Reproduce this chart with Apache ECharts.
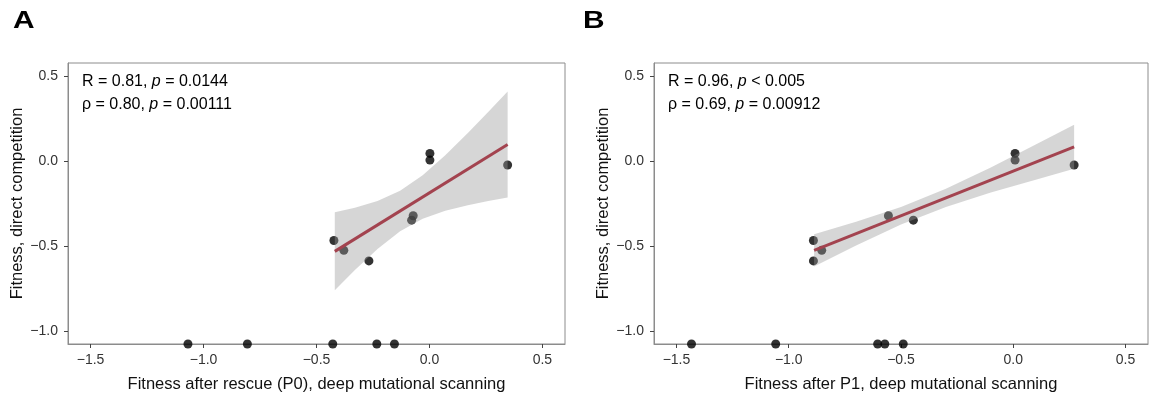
<!DOCTYPE html>
<html><head><meta charset="utf-8">
<script src="https://cdn.jsdelivr.net/npm/echarts@6/dist/echarts.min.js"></script>
<style>html,body{margin:0;padding:0;background:#fff}#c{width:1150px;height:398px}</style>
</head><body><div id="c"></div>
<script>
// ---- data ----
const yCompetition = [-0.467, -0.525, -0.587, -0.322, -0.348, 0.044, 0.005, -0.024];
const xP0 = [-0.423, -0.379, -0.268, -0.072, -0.079, 0.002, 0.002, 0.346];
const xP1 = [-0.890, -0.853, -0.890, -0.556, -0.445, 0.008, 0.008, 0.271];
const floorP0 = [-1.069, -0.806, -0.428, -0.233, -0.155];
const floorP1 = [-1.433, -1.058, -0.604, -0.572, -0.490];
const floorY = -1.075;
const fitP0X = [-0.419, 0.346];
const fitP0Y = [-0.531, 0.096];
const fitP1X = [-0.887, 0.271];
const fitP1Y = [-0.525, 0.083];
const bandP0X = [-0.419, -0.33, -0.23, -0.13, -0.03, 0.07, 0.17, 0.26, 0.346];
const bandP0Upper = [-0.302, -0.275, -0.235, -0.175, -0.084, 0.033, 0.164, 0.288, 0.407];
const bandP0Lower = [-0.760, -0.641, -0.517, -0.413, -0.340, -0.293, -0.260, -0.236, -0.215];
const bandP1X = [-0.887, -0.7, -0.5, -0.3, -0.1, 0.1, 0.271];
const bandP1Upper = [-0.430, -0.357, -0.270, -0.163, -0.038, 0.096, 0.212];
const bandP1Lower = [-0.620, -0.497, -0.374, -0.271, -0.186, -0.110, -0.046];
const xTicks = [-1.5, -1.0, -0.5, 0.0, 0.5];
const yTicks = [-1.0, -0.5, 0.0, 0.5];
const xRange = [-1.6, 0.6];
const yRange = [-1.075, 0.575];
const xTitles = ['Fitness after rescue (P0), deep mutational scanning', 'Fitness after P1, deep mutational scanning'];
const yTitle = 'Fitness, direct competition';
const stats = [
  ['R = 0.81, {i|p} = 0.0144', 'ρ = 0.80, {i|p} = 0.00111'],
  ['R = 0.96, {i|p} < 0.005', 'ρ = 0.69, {i|p} = 0.00912']
];
const panelLetters = ['A', 'B'];

// ---- build ----
const FONT = 'Liberation Sans, Arial, sans-serif';
const fmt = v => (v < 0 ? '\u2212' : '') + Math.abs(v).toFixed(1);
const borderCol = '#8c8c8c';
const grids = [
  {left: 68, top: 63, width: 497, height: 285},
  {left: 654, top: 63, width: 494, height: 285}
];
const zip = (a, b) => a.map((v, i) => [v, b[i]]);

function xAxis(i) {
  return {
    type: 'value', gridIndex: i, min: xRange[0], max: xRange[1],
    name: xTitles[i], nameLocation: 'middle', nameGap: 32,
    nameTextStyle: {fontFamily: FONT, fontSize: 16.5, color: '#111'},
    axisLine: {show: true, onZero: false, lineStyle: {color: borderCol, width: 1}},
    axisTick: {show: true, length: 4, lineStyle: {color: '#444'}, customValues: xTicks},
    axisLabel: {fontFamily: FONT, fontSize: 14, color: '#333', margin: 9, formatter: fmt, customValues: xTicks},
    splitLine: {show: false}
  };
}
function yAxis(i) {
  return {
    type: 'value', gridIndex: i, min: yRange[0], max: yRange[1],
    name: yTitle, nameLocation: 'middle', nameGap: 42, nameRotate: 90,
    nameTextStyle: {fontFamily: FONT, fontSize: 16.5, color: '#111'},
    axisLine: {show: true, onZero: false, lineStyle: {color: borderCol, width: 1}},
    axisTick: {show: true, length: 4, lineStyle: {color: '#444'}, customValues: yTicks},
    axisLabel: {fontFamily: FONT, fontSize: 14, color: '#333', margin: 10, formatter: fmt, customValues: yTicks},
    splitLine: {show: false}
  };
}
function band(i, xs, up, lo) {
  return {
    type: 'custom', xAxisIndex: i, yAxisIndex: i, z: 3, clip: true, silent: true,
    data: [0],
    renderItem: function (params, api) {
      const pts = [];
      for (let k = 0; k < xs.length; k++) pts.push(api.coord([xs[k], up[k]]));
      for (let k = xs.length - 1; k >= 0; k--) pts.push(api.coord([xs[k], lo[k]]));
      return {type: 'polygon', shape: {points: pts}, style: {fill: 'rgba(153,153,153,0.4)'}};
    }
  };
}
function pts(i, xs, ys) {
  return {type: 'scatter', xAxisIndex: i, yAxisIndex: i, z: 2, symbolSize: 9, clip: false,
    itemStyle: {color: '#000'}, data: zip(xs, ys), silent: true};
}
function fit(i, xs, ys) {
  return {type: 'line', xAxisIndex: i, yAxisIndex: i, z: 4, showSymbol: false, symbol: 'none',
    lineStyle: {color: '#a3434f', width: 3}, data: zip(xs, ys), silent: true};
}

const graphics = [];
panelLetters.forEach((L, i) => {
  graphics.push({type: 'text', x: i === 0 ? 13 : 583, y: 10, scaleX: 1.3,
    style: {text: L, font: 'bold 23px ' + FONT, fill: '#000'}});
  stats[i].forEach((s, j) => {
    graphics.push({type: 'text', left: grids[i].left + 14, top: 74 + j * 23,
      style: {text: s, font: '16px ' + FONT, fill: '#000',
        rich: {i: {fontStyle: 'italic', fontSize: 16, fontFamily: FONT, fill: '#000'}}}});
  });
});

const option = {
  animation: false,
  backgroundColor: '#fff',
  grid: grids.map(g => Object.assign({show: true, borderColor: borderCol, borderWidth: 1, backgroundColor: '#fff'}, g)),
  xAxis: [xAxis(0), xAxis(1)],
  yAxis: [yAxis(0), yAxis(1)],
  series: [
    pts(0, xP0, yCompetition),
    pts(0, floorP0, floorP0.map(() => floorY)),
    band(0, bandP0X, bandP0Upper, bandP0Lower),
    fit(0, fitP0X, fitP0Y),
    pts(1, xP1, yCompetition),
    pts(1, floorP1, floorP1.map(() => floorY)),
    band(1, bandP1X, bandP1Upper, bandP1Lower),
    fit(1, fitP1X, fitP1Y)
  ],
  graphic: graphics
};
const chart = echarts.init(document.getElementById('c'), null, {renderer: 'canvas'});
chart.setOption(option);
</script></body></html>
